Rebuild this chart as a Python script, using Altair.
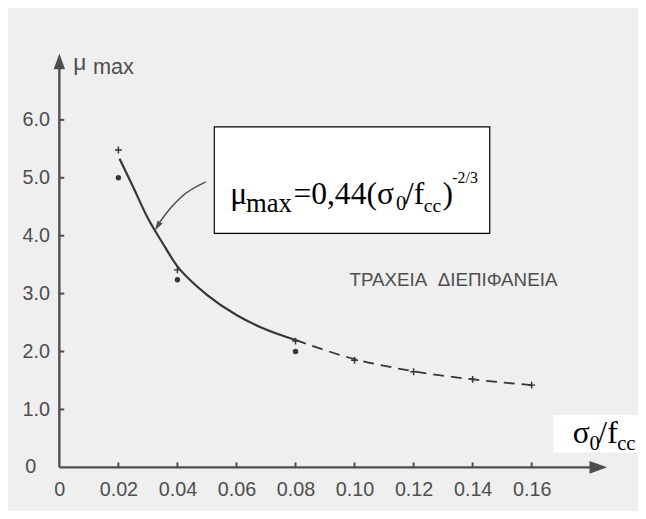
import altair as alt
import pandas as pd

# ---------------- data ----------------
plus_x = [0.02, 0.04, 0.08, 0.10, 0.12, 0.14, 0.16]
plus_y = [5.48, 3.41, 2.18, 1.85, 1.65, 1.52, 1.42]

dot_x = [0.02, 0.04, 0.08]
dot_y = [5.00, 3.24, 2.00]

curve_x = [0.0204, 0.025, 0.030, 0.035, 0.040, 0.045, 0.050, 0.060, 0.070, 0.080]
curve_y = [5.33, 4.84, 4.30, 3.87, 3.47, 3.20, 2.98, 2.63, 2.38, 2.20]

dash_x = [0.08, 0.10, 0.12, 0.14, 0.16]
dash_y = [2.20, 1.87, 1.66, 1.52, 1.42]

x_label_values = [0, 0.02, 0.04, 0.06, 0.08, 0.10, 0.12, 0.14, 0.16]
x_tick_values = [0.02, 0.04, 0.06, 0.08, 0.10, 0.12, 0.14, 0.16]
y_tick_values = [1, 2, 3, 4, 5, 6]

# pointer arrow from the formula box to the curve
ptr_x = [0.0496, 0.0418, 0.0379, 0.0341]
ptr_y = [4.93, 4.69, 4.49, 4.24]
ptr_head = (0.03325, 4.164)

axis_x_end = 0.1826
axis_y_end = 7.01

greek_label = "ΤΡΑΧΕΙΑ\u00a0\u00a0ΔΙΕΠΙΦΑΝΕΙΑ"
greek_pos = (0.1335, 3.24)

formula_box = (0.0525, 0.1458, 4.04, 5.88)
formula_anchor = (0.05787, 4.552)
formula_parts = [  # text, dx, dy, size
    ("μ", 0, 0, 32),
    ("max", 16, 8, 27),
    ("=0,44(σ", 64, 0, 32),
    ("0", 168, 6, 21),
    ("/f", 177, 0, 32),
    ("cc", 196, 8, 20),
    (")", 215, 0, 32),
    ("-2/3", 225, -21, 16),
]

xlab_box = (0.1673, 0.200, 0.256, 0.904)
xlab_anchor = (0.1739, 0.426)
xlab_parts = [
    ("σ", 0, 0, 32),
    ("0", 17, 7, 21),
    ("/f", 26, 0, 32),
    ("cc", 45, 7, 21),
]

ylab_anchor = (0.0, 6.79)
ylab_parts = [("μ", 14, -4, 23), ("max", 34, 0, 22)]

# ---------------- chart ----------------
W, H = 568, 434
BG = "#efefef"
INK = "#363636"
GREY = "#4e4e4e"
SANS = "Liberation Sans"
SERIF = "Liberation Serif"

xs = alt.Scale(domain=[0, 0.19], nice=False, zero=False)
ys = alt.Scale(domain=[0, 7.4], nice=False, zero=False)

x_axis = alt.Axis(values=x_label_values,
                  labelExpr="datum.value == 0 ? '0' : format(datum.value, '.2f')",
                  ticks=False, domain=False, grid=False, labelPadding=12,
                  labelFontSize=20, labelFont=SANS, labelColor=GREY, title=None,
                  labelFlush=False)
y_axis = alt.Axis(values=y_tick_values, format=".1f", ticks=False, domain=False,
                  grid=False, labelPadding=10, labelFontSize=20, labelFont=SANS,
                  labelColor=GREY, title=None, labelFlush=False)

X = alt.X("x:Q", scale=xs, axis=x_axis)
Y = alt.Y("y:Q", scale=ys, axis=y_axis)

layers = []

# background box for x-axis title
layers.append(alt.Chart(pd.DataFrame({"x": [xlab_box[0]], "x2": [xlab_box[1]],
                                      "y": [xlab_box[2]], "y2": [xlab_box[3]]}))
              .mark_rect(fill="white", stroke=None)
              .encode(x=X, x2="x2:Q", y=Y, y2="y2:Q"))

# axis lines
layers.append(alt.Chart(pd.DataFrame({"x": [0.0], "y": [0.0], "y2": [axis_y_end]}))
              .mark_rule(color=GREY, strokeWidth=2.4)
              .encode(x=X, y=Y, y2="y2:Q"))
layers.append(alt.Chart(pd.DataFrame({"x": [0.0], "x2": [axis_x_end], "y": [0.0]}))
              .mark_rule(color=GREY, strokeWidth=2.4)
              .encode(x=X, x2="x2:Q", y=Y))
# arrow heads
layers.append(alt.Chart(pd.DataFrame({"x": [0.0], "y": [axis_y_end]}))
              .mark_point(shape="M -0.72 1 L 0 -1 L 0.72 1 Z", filled=True,
                          fill=GREY, size=256, opacity=1, strokeWidth=0)
              .encode(x=X, y=Y))
layers.append(alt.Chart(pd.DataFrame({"x": [axis_x_end], "y": [0.0]}))
              .mark_point(shape="M -1 -0.72 L 1 0 L -1 0.72 Z", filled=True,
                          fill=GREY, size=324, opacity=1, strokeWidth=0)
              .encode(x=X, y=Y))

# inward ticks
layers.append(alt.Chart(pd.DataFrame({"y": y_tick_values}))
              .mark_rule(color=GREY, strokeWidth=2)
              .encode(y=Y, x=alt.value(0), x2=alt.value(5)))
layers.append(alt.Chart(pd.DataFrame({"x": x_tick_values}))
              .mark_rule(color=GREY, strokeWidth=2)
              .encode(x=X, y=alt.value(H), y2=alt.value(H - 5)))

# y zero label
layers.append(alt.Chart(pd.DataFrame({"x": [0.0], "y": [0.0], "t": ["0"]}))
              .mark_text(font=SANS, fontSize=20, color=GREY, dx=-29,
                         align="center", baseline="middle")
              .encode(x=X, y=Y, text="t:N"))

# curves
layers.append(alt.Chart(pd.DataFrame({"x": curve_x, "y": curve_y}))
              .mark_line(color=INK, strokeWidth=2.2, interpolate="monotone")
              .encode(x=X, y=Y))
layers.append(alt.Chart(pd.DataFrame({"x": dash_x, "y": dash_y}))
              .mark_line(color=INK, strokeWidth=1.8, strokeDash=[11, 7],
                         interpolate="monotone")
              .encode(x=X, y=Y))

# markers
layers.append(alt.Chart(pd.DataFrame({"x": plus_x, "y": plus_y}))
              .mark_point(shape="M -1 0 L 1 0 M 0 -1 L 0 1", filled=False,
                          color=INK, size=49, strokeWidth=1.5, opacity=1)
              .encode(x=X, y=Y))
layers.append(alt.Chart(pd.DataFrame({"x": dot_x, "y": dot_y}))
              .mark_circle(color=INK, size=30, opacity=1)
              .encode(x=X, y=Y))

# pointer arrow
layers.append(alt.Chart(pd.DataFrame({"x": ptr_x, "y": ptr_y}))
              .mark_line(color=GREY, strokeWidth=1.5, interpolate="monotone")
              .encode(x=X, y=Y))
layers.append(alt.Chart(pd.DataFrame({"x": [ptr_head[0]], "y": [ptr_head[1]]}))
              .mark_point(shape="M 0 -1 L 0.6 1 L -0.6 1 Z", filled=True, fill=GREY,
                          size=100, angle=212, opacity=1, strokeWidth=0)
              .encode(x=X, y=Y))

# formula box
layers.append(alt.Chart(pd.DataFrame({"x": [formula_box[0]], "x2": [formula_box[1]],
                                      "y": [formula_box[2]], "y2": [formula_box[3]]}))
              .mark_rect(fill="white", stroke="black", strokeWidth=1.2)
              .encode(x=X, x2="x2:Q", y=Y, y2="y2:Q"))


def text_parts(anchor, parts, font, color):
    out = []
    for t, dx, dy, size in parts:
        out.append(alt.Chart(pd.DataFrame({"x": [anchor[0]], "y": [anchor[1]], "t": [t]}))
                   .mark_text(font=font, fontSize=size, color=color, dx=dx, dy=dy,
                              align="left", baseline="alphabetic")
                   .encode(x=X, y=Y, text="t:N"))
    return out


layers += text_parts(formula_anchor, formula_parts, SERIF, "black")
layers += text_parts(xlab_anchor, xlab_parts, SERIF, "black")
layers += text_parts(ylab_anchor, ylab_parts, SANS, GREY)

layers.append(alt.Chart(pd.DataFrame({"x": [greek_pos[0]], "y": [greek_pos[1]],
                                      "t": [greek_label]}))
              .mark_text(font=SANS, fontSize=19, color=GREY, align="center",
                         baseline="middle")
              .encode(x=X, y=Y, text="t:N"))

chart = (alt.layer(*layers)
         .properties(width=W, height=H,
                     autosize=alt.AutoSizeParams(type="none"),
                     padding={"left": 52, "top": 28, "right": 18, "bottom": 41},
                     background=BG)
         .configure_view(stroke=None))

chart.save("out.html", embed_options={"renderer": "svg", "actions": False})
